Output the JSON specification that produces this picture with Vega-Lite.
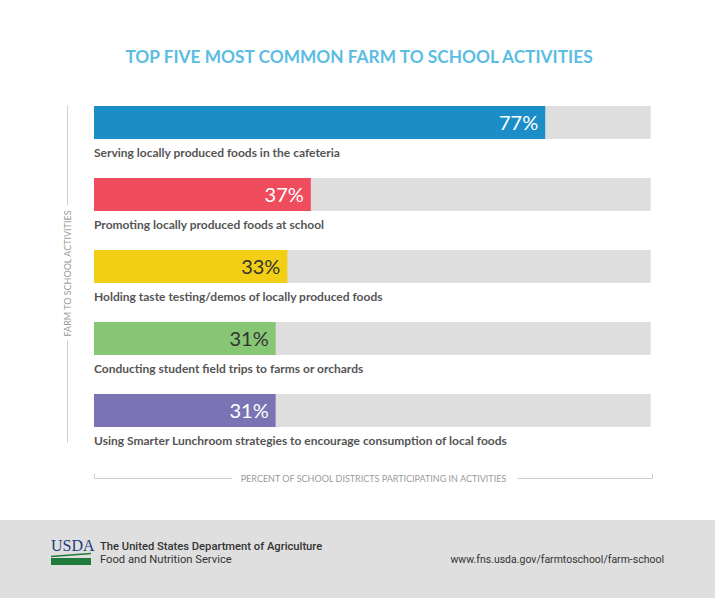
{
  "$schema": "https://vega.github.io/schema/vega-lite/v6.json",
  "autosize": "none",
  "width": 586,
  "height": 360,
  "padding": {"left": 94, "top": 102, "right": 35, "bottom": 136},
  "background": "#ffffff",
  "config": {"view": {"stroke": null}},
  "title": {
    "text": "TOP FIVE MOST COMMON FARM TO SCHOOL ACTIVITIES",
    "font": "Lato",
    "fontSize": 17.3,
    "fontWeight": "bold",
    "color": "#5bbde3",
    "anchor": "middle",
    "dx": -28,
    "offset": 22,
    "baseline": "alphabetic"
  },
  "data": {
    "values": [
      {"activity": "Serving locally produced foods in the cafeteria", "value": 0.77},
      {"activity": "Promoting locally produced foods at school", "value": 0.37},
      {"activity": "Holding taste testing/demos of locally produced foods", "value": 0.33},
      {"activity": "Conducting student field trips to farms or orchards", "value": 0.31},
      {"activity": "Using Smarter Lunchroom strategies to encourage consumption of local foods", "value": 0.31}
    ]
  },
  "resolve": {"scale": {"color": "independent"}},
  "layer": [
    {
      "mark": {"type": "bar", "color": "#dedede", "height": 33, "yOffset": -15.5},
      "encoding": {
        "y": {"field": "activity", "type": "nominal", "sort": null, "title": "FARM TO SCHOOL ACTIVITIES",
          "scale": {"paddingInner": 0, "paddingOuter": 0},
          "axis": {"orient": "left", "offset": 27, "labels": false, "ticks": false, "grid": false, "domainColor": "#cfcfcf", "domainWidth": 1, "domainDash": [100, 135, 102, 30], "domainDashOffset": 364, "titleAngle": -90, "titleAlign": "center", "titleBaseline": "middle", "titleX": 0, "titleY": 171, "titleFont": "Lato", "titleFontSize": 9, "titleFontWeight": "normal", "titleColor": "#9a9a9a"}},
        "x": {"datum": 0, "type": "quantitative", "title": "PERCENT OF SCHOOL DISTRICTS PARTICIPATING IN ACTIVITIES",
          "scale": {"domain": [0, 1], "zero": true, "nice": false},
          "axis": {"orient": "bottom", "offset": 16, "labels": false, "ticks": true, "values": [0, 0.952], "tickSize": -5, "tickColor": "#cfcfcf", "grid": false, "domainColor": "#cfcfcf", "domainWidth": 1, "domainDash": [138, 285, 135, 200], "titleX": 279, "titleY": 0, "titleAlign": "center", "titleBaseline": "middle", "titleFont": "Lato", "titleFontSize": 9, "titleFontWeight": "normal", "titleColor": "#9a9a9a"}},
        "x2": {"datum": 0.95}
      }
    },
    {
      "mark": {"type": "bar", "height": 33, "yOffset": -15.5},
      "encoding": {
        "y": {"field": "activity", "type": "nominal", "sort": null, "title": "FARM TO SCHOOL ACTIVITIES",
          "axis": {"orient": "left", "offset": 27, "labels": false, "ticks": false, "grid": false, "domainColor": "#cfcfcf", "domainWidth": 1, "domainDash": [100, 135, 102, 30], "domainDashOffset": 364, "titleAngle": -90, "titleAlign": "center", "titleBaseline": "middle", "titleX": 0, "titleY": 171, "titleFont": "Lato", "titleFontSize": 9, "titleFontWeight": "normal", "titleColor": "#9a9a9a"}},
        "x": {"field": "value", "type": "quantitative", "title": "PERCENT OF SCHOOL DISTRICTS PARTICIPATING IN ACTIVITIES",
          "axis": {"orient": "bottom", "offset": 16, "labels": false, "ticks": true, "values": [0, 0.952], "tickSize": -5, "tickColor": "#cfcfcf", "grid": false, "domainColor": "#cfcfcf", "domainWidth": 1, "domainDash": [138, 285, 135, 200], "titleX": 279, "titleY": 0, "titleAlign": "center", "titleBaseline": "middle", "titleFont": "Lato", "titleFontSize": 9, "titleFontWeight": "normal", "titleColor": "#9a9a9a"}},
        "color": {"field": "activity", "type": "nominal", "sort": null, "legend": null,
          "scale": {"domain": [
            "Serving locally produced foods in the cafeteria",
            "Promoting locally produced foods at school",
            "Holding taste testing/demos of locally produced foods",
            "Conducting student field trips to farms or orchards",
            "Using Smarter Lunchroom strategies to encourage consumption of local foods"],
            "range": ["#1b8ec8", "#ef4c5e", "#f2cf14", "#86c674", "#7b74b4"]}}
      }
    },
    {
      "mark": {"type": "text", "align": "right", "baseline": "middle", "dx": -7, "dy": 1, "yOffset": -15.5, "font": "Lato", "fontSize": 20},
      "encoding": {
        "y": {"field": "activity", "type": "nominal", "sort": null, "title": "FARM TO SCHOOL ACTIVITIES",
          "axis": {"orient": "left", "offset": 27, "labels": false, "ticks": false, "grid": false, "domainColor": "#cfcfcf", "domainWidth": 1, "domainDash": [100, 135, 102, 30], "domainDashOffset": 364, "titleAngle": -90, "titleAlign": "center", "titleBaseline": "middle", "titleX": 0, "titleY": 171, "titleFont": "Lato", "titleFontSize": 9, "titleFontWeight": "normal", "titleColor": "#9a9a9a"}},
        "x": {"field": "value", "type": "quantitative", "title": "PERCENT OF SCHOOL DISTRICTS PARTICIPATING IN ACTIVITIES",
          "axis": {"orient": "bottom", "offset": 16, "labels": false, "ticks": true, "values": [0, 0.952], "tickSize": -5, "tickColor": "#cfcfcf", "grid": false, "domainColor": "#cfcfcf", "domainWidth": 1, "domainDash": [138, 285, 135, 200], "titleX": 279, "titleY": 0, "titleAlign": "center", "titleBaseline": "middle", "titleFont": "Lato", "titleFontSize": 9, "titleFontWeight": "normal", "titleColor": "#9a9a9a"}},
        "text": {"field": "value", "type": "quantitative", "format": ".0%"},
        "color": {"field": "activity", "type": "nominal", "sort": null, "legend": null,
          "scale": {"domain": [
            "Serving locally produced foods in the cafeteria",
            "Promoting locally produced foods at school",
            "Holding taste testing/demos of locally produced foods",
            "Conducting student field trips to farms or orchards",
            "Using Smarter Lunchroom strategies to encourage consumption of local foods"],
            "range": ["#ffffff", "#ffffff", "#333333", "#333333", "#ffffff"]}}
      }
    },
    {
      "mark": {"type": "text", "align": "left", "baseline": "middle", "yOffset": 15, "font": "Lato", "fontSize": 12, "fontWeight": "bold", "color": "#555555"},
      "encoding": {
        "y": {"field": "activity", "type": "nominal", "sort": null, "title": "FARM TO SCHOOL ACTIVITIES",
          "axis": {"orient": "left", "offset": 27, "labels": false, "ticks": false, "grid": false, "domainColor": "#cfcfcf", "domainWidth": 1, "domainDash": [100, 135, 102, 30], "domainDashOffset": 364, "titleAngle": -90, "titleAlign": "center", "titleBaseline": "middle", "titleX": 0, "titleY": 171, "titleFont": "Lato", "titleFontSize": 9, "titleFontWeight": "normal", "titleColor": "#9a9a9a"}},
        "x": {"datum": 0, "type": "quantitative", "title": "PERCENT OF SCHOOL DISTRICTS PARTICIPATING IN ACTIVITIES",
          "axis": {"orient": "bottom", "offset": 16, "labels": false, "ticks": true, "values": [0, 0.952], "tickSize": -5, "tickColor": "#cfcfcf", "grid": false, "domainColor": "#cfcfcf", "domainWidth": 1, "domainDash": [138, 285, 135, 200], "titleX": 279, "titleY": 0, "titleAlign": "center", "titleBaseline": "middle", "titleFont": "Lato", "titleFontSize": 9, "titleFontWeight": "normal", "titleColor": "#9a9a9a"}},
        "text": {"field": "activity", "type": "nominal"}
      }
    },
    {
      "data": {"values": [{}]},
      "mark": {"type": "rect", "color": "#dfdfdf"},
      "encoding": {"x": {"value": -94}, "x2": {"value": 621}, "y": {"value": 418}, "y2": {"value": 496}}
    },
    {
      "data": {"values": [{}]},
      "mark": {"type": "rect", "color": "#1f7a3c"},
      "encoding": {"x": {"value": -43}, "x2": {"value": -3}, "y": {"value": 456}, "y2": {"value": 463}}
    },
    {
      "data": {"values": [{}]},
      "mark": {"type": "rule", "color": "#1f7a3c", "strokeWidth": 1.5},
      "encoding": {"x": {"value": -43}, "x2": {"value": -3}, "y": {"value": 454.5}, "y2": {"value": 451.5}}
    },
    {
      "data": {"values": [{}]},
      "mark": {"type": "text", "text": "USDA", "font": "Liberation Serif, serif", "fontSize": 16, "color": "#203d7a", "align": "left", "baseline": "alphabetic"},
      "encoding": {"x": {"value": -43}, "y": {"value": 449}}
    },
    {
      "data": {"values": [{}]},
      "mark": {"type": "text", "text": "The United States Department of Agriculture", "font": "Roboto, sans-serif", "fontSize": 11.2, "fontWeight": 500, "color": "#333333", "align": "left", "baseline": "alphabetic"},
      "encoding": {"x": {"value": 6}, "y": {"value": 448}}
    },
    {
      "data": {"values": [{}]},
      "mark": {"type": "text", "text": "Food and Nutrition Service", "font": "Roboto, sans-serif", "fontSize": 11.2, "color": "#333333", "align": "left", "baseline": "alphabetic"},
      "encoding": {"x": {"value": 6}, "y": {"value": 461}}
    },
    {
      "data": {"values": [{}]},
      "mark": {"type": "text", "text": "www.fns.usda.gov/farmtoschool/farm-school", "font": "Roboto, sans-serif", "fontSize": 10.5, "color": "#333333", "align": "right", "baseline": "alphabetic"},
      "encoding": {"x": {"value": 570}, "y": {"value": 461}}
    }
  ]
}
